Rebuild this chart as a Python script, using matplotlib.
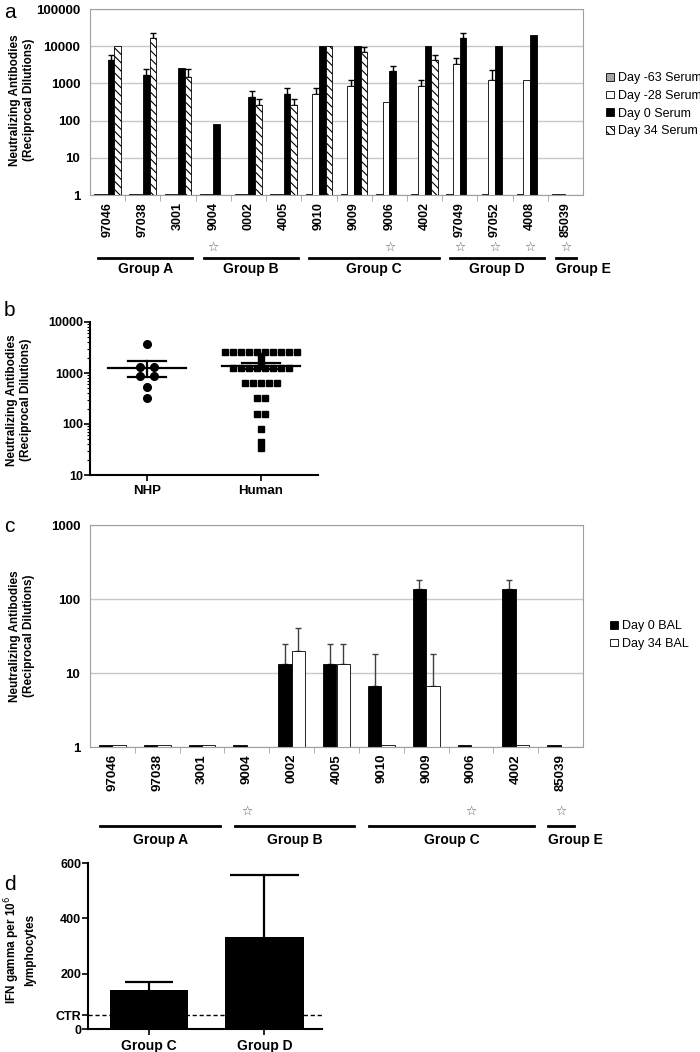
import numpy as np
import matplotlib
matplotlib.use("Agg")
import matplotlib.pyplot as plt
from matplotlib.patches import Patch

plt.rcParams['font.family'] = ['Liberation Sans', 'DejaVu Sans']
plt.rcParams['hatch.linewidth'] = 0.8

nan = np.nan

# ---- panel a data (serum) ----
cats_a = ['97046', '97038', '3001', '9004', '0002', '4005', '9010', '9009',
          '9006', '4002', '97049', '97052', '4008', '85039']
d63 = [1.05] * 14
d28 = [1.05, 1.05, 1.05, 1.05, 1.05, 1.05, 530, 830, 320, 830, 3400, 1250, 1250, 1.05]
d0 = [4300, 1700, 2600, 80, 430, 530, 10000, 10000, 2150, 10000, 17000, 10000, 20000, nan]
d34 = [10000, 17000, 1500, nan, 270, 270, 10000, 6900, nan, 4300, nan, nan, nan, nan]
d28_err = [nan, nan, nan, nan, nan, nan, 740, 1200, nan, 1200, 4900, 2300, nan, nan]
d0_err = [5800, 2400, nan, nan, 620, 740, nan, nan, 2900, nan, 23000, nan, nan, nan]
d34_err = [nan, 23000, 2500, nan, 375, 375, nan, 9700, nan, 5800, nan, nan, nan, nan]
groups_a = [('Group A', 0, 2), ('Group B', 3, 5), ('Group C', 6, 9),
            ('Group D', 10, 12), ('Group E', 13, 13)]
stars_a = ['9004', '9006', '97049', '97052', '4008', '85039']

# ---- panel b data ----
nhp = [3650, 1320, 1320, 870, 870, 540, 330]
human = [2560] * 10 + [2200, 1650] + [1280] * 8 + [640] * 5 + [320] * 2 + [160] * 2 + [80, 45, 34]

# ---- panel c data (BAL) ----
cats_c = ['97046', '97038', '3001', '9004', '0002', '4005', '9010', '9009',
          '9006', '4002', '85039']
bal0 = [1.08, 1.08, 1.08, 1.08, 13.4, 13.4, 6.7, 135, 1.08, 135, 1.08]
bal34 = [1.08, 1.08, 1.08, nan, 20, 13.4, 1.08, 6.7, nan, 1.08, nan]
bal0_err = [nan, nan, nan, nan, 25, 25, 18, 180, nan, 180, nan]
bal34_err = [nan, nan, nan, nan, 40, 25, nan, 18, nan, nan, nan]
groups_c = [('Group A', 0, 2), ('Group B', 3, 5), ('Group C', 6, 9), ('Group E', 10, 10)]
stars_c = ['9004', '9006', '85039']

# ---- panel d data ----
groups_d = ['Group C', 'Group D']
ifn = [141, 333]
ifn_err = [169, 555]
ctr = 50

W, H = 700, 1052
fig = plt.figure(figsize=(7, 10.52), dpi=100)


def px_axes(l, t, r, b):
    return fig.add_axes([l / W, 1 - b / H, (r - l) / W, (b - t) / H])


def up_err(ax, x, vals, tops, color, cap=2.2):
    x = np.asarray(x, float)
    v = np.asarray(vals, float)
    t = np.asarray(tops, float)
    m = ~np.isnan(t)
    ax.errorbar(x[m], v[m], yerr=[np.zeros(m.sum()), t[m] - v[m]], fmt='none',
                ecolor=color, elinewidth=1, capsize=cap, capthick=1, zorder=1)


def excel_frame(ax, ncat, ticks):
    for s in ax.spines.values():
        s.set_color('#a0a0a0')
    ax.set_yscale('log')
    ax.set_ylim(ticks[0], ticks[-1])
    ax.set_yticks(ticks)
    ax.set_yticklabels([str(t) for t in ticks], fontsize=9.5, fontweight='bold')
    ax.minorticks_off()
    ax.yaxis.grid(True, color='#c8c8c8', lw=1)
    ax.set_axisbelow(True)
    ax.set_xlim(-0.5, ncat - 0.5)
    ax.tick_params(axis='y', length=0, pad=7)
    ax.set_xticks(np.arange(ncat - 1) + 0.5, minor=True)
    ax.tick_params(axis='x', which='minor', length=4, color='#a0a0a0')
    ax.tick_params(axis='x', which='major', length=0, pad=5)


def add_groups(ax, cats, groups, stars, ax_h, star_dy, line_dy, label_dy):
    tr = ax.get_xaxis_transform()
    for c in stars:
        ax.text(cats.index(c), -star_dy / ax_h, '\u2606', transform=tr, ha='center',
                va='center', fontsize=9, color='#606060', family='DejaVu Sans')
    for name, i0, i1 in groups:
        x0, x1 = i0 - 0.27, i1 + 0.4
        if i0 == i1:
            x1 = i1 + 0.3
        ax.plot([x0, x1], [-line_dy / ax_h] * 2, color='black', lw=2,
                transform=tr, clip_on=False)
        if i0 == i1:
            ax.text(x0, -label_dy / ax_h, name, transform=tr, ha='left', va='center',
                    fontsize=10, fontweight='bold')
        else:
            ax.text((x0 + x1) / 2, -label_dy / ax_h, name, transform=tr, ha='center',
                    va='center', fontsize=10, fontweight='bold')


ylab = 'Neutralizing Antibodies\n(Reciprocal Dilutions)'

# ================= panel a =================
ax = px_axes(90, 9, 583, 195)
x = np.arange(len(cats_a))
w = 0.19
excel_frame(ax, len(cats_a), [1, 10, 100, 1000, 10000, 100000])
ax.bar(x - 1.5 * w, d63, w, color='#a6a6a6', edgecolor='black', lw=0.6, zorder=2)
ax.bar(x - 0.5 * w, d28, w, color='white', edgecolor='black', lw=0.6, zorder=2)
ax.bar(x + 0.5 * w, d0, w, color='black', edgecolor='black', lw=0.6, zorder=2)
ax.bar(x + 1.5 * w, d34, w, color='white', edgecolor='black', lw=0.6,
       hatch='\\\\\\\\', zorder=2)
up_err(ax, x - 0.5 * w, d28, d28_err, 'black')
up_err(ax, x + 0.5 * w, d0, d0_err, 'black')
up_err(ax, x + 1.5 * w, d34, d34_err, 'black')
ax.set_ylim(1, 100000)
ax.set_xticks(x)
ax.set_xticklabels(cats_a, rotation=90, fontsize=9, fontweight='bold')
add_groups(ax, cats_a, groups_a, stars_a, 186, 52, 63, 74)
fig.text(22 / W, 1 - 100 / H, ylab, rotation=90, ha='center', va='center',
         fontsize=8.5, fontweight='bold', multialignment='center')
fig.text(4 / W, 1 - 12 / H, 'a', fontsize=15, va='center')
leg_a = [Patch(facecolor='#a6a6a6', edgecolor='black', lw=0.6),
         Patch(facecolor='white', edgecolor='black', lw=0.6),
         Patch(facecolor='black', edgecolor='black', lw=0.6),
         Patch(facecolor='white', edgecolor='black', lw=0.6, hatch='\\\\\\\\')]
fig.legend(leg_a, ['Day -63 Serum', 'Day -28 Serum', 'Day 0 Serum', 'Day 34 Serum'],
           loc='upper left', bbox_to_anchor=(600 / W, 1 - 66 / H), frameon=False,
           fontsize=9, handlelength=0.6, handleheight=0.6, handletextpad=0.3,
           labelspacing=0.45, borderpad=0)

# ================= panel b =================
ax = px_axes(90, 322, 318, 475)
for i, (vals, mk, ms, sp) in enumerate([(nhp, 'o', 5.5, 0.12), (human, 's', 3.8, 0.07)]):
    vals = np.asarray(vals, float)
    xs = np.zeros(len(vals))
    for v in np.unique(vals):
        idx = np.where(vals == v)[0]
        xs[idx] = i + (np.arange(len(idx)) - (len(idx) - 1) / 2) * sp
    ax.plot(xs, vals, mk, color='black', ms=ms, ls='none', zorder=3)
    m = vals.mean()
    sem = vals.std(ddof=1) / np.sqrt(len(vals))
    ax.plot([i - 0.34, i + 0.34], [m, m], color='black', lw=1.6, zorder=4)
    ax.plot([i, i], [m - sem, m + sem], color='black', lw=1.6, zorder=4)
    ax.plot([i - 0.17, i + 0.17], [m + sem] * 2, color='black', lw=1.6, zorder=4)
    ax.plot([i - 0.17, i + 0.17], [m - sem] * 2, color='black', lw=1.6, zorder=4)
ax.set_yscale('log')
ax.set_ylim(10, 10000)
ax.set_xlim(-0.5, 1.5)
ax.set_xticks([0, 1])
ax.set_xticklabels(['NHP', 'Human'], fontsize=9.5, fontweight='bold')
ax.set_yticks([10, 100, 1000, 10000])
ax.set_yticklabels(['10', '100', '1000', '10000'], fontsize=9, fontweight='bold')
for s in ['top', 'right']:
    ax.spines[s].set_visible(False)
for s in ['left', 'bottom']:
    ax.spines[s].set_linewidth(1.5)
ax.tick_params(which='major', length=4, width=1.2, pad=1)
ax.tick_params(which='minor', length=2, width=0.8)
ax.tick_params(axis='x', pad=3)
fig.text(19 / W, 1 - 400 / H, ylab, rotation=90, ha='center', va='center',
         fontsize=8.5, fontweight='bold', multialignment='center')
fig.text(4 / W, 1 - 310 / H, 'b', fontsize=15, va='center')

# ================= panel c =================
ax = px_axes(90, 525, 583, 747)
x = np.arange(len(cats_c))
w = 0.3
excel_frame(ax, len(cats_c), [1, 10, 100, 1000])
ax.bar(x - 0.5 * w, bal0, w, color='black', edgecolor='black', lw=0.6, zorder=2)
ax.bar(x + 0.5 * w, bal34, w, color='white', edgecolor='black', lw=0.6, zorder=2)
up_err(ax, x - 0.5 * w, bal0, bal0_err, '#404040', cap=2.5)
up_err(ax, x + 0.5 * w, bal34, bal34_err, '#404040', cap=2.5)
ax.set_ylim(1, 1000)
ax.set_xticks(x)
ax.set_xticklabels(cats_c, rotation=90, fontsize=9.5, fontweight='bold')
add_groups(ax, cats_c, groups_c, stars_c, 222, 64, 79, 93)
fig.text(22 / W, 1 - 636 / H, ylab, rotation=90, ha='center', va='center',
         fontsize=8.5, fontweight='bold', multialignment='center')
fig.text(4 / W, 1 - 527 / H, 'c', fontsize=15, va='center')
leg_c = [Patch(facecolor='black', edgecolor='black', lw=0.6),
         Patch(facecolor='white', edgecolor='black', lw=0.6)]
fig.legend(leg_c, ['Day 0 BAL', 'Day 34 BAL'], loc='upper left',
           bbox_to_anchor=(604 / W, 1 - 614 / H), frameon=False, fontsize=9,
           handlelength=0.6, handleheight=0.6, handletextpad=0.3,
           labelspacing=0.45, borderpad=0)

# ================= panel d =================
ax = px_axes(88, 863, 322, 1029)
xd = np.arange(len(groups_d))
ax.bar(xd, ifn, 0.68, color='black', zorder=2)
ax.vlines(xd, ifn, ifn_err, color='black', lw=1.6, zorder=1)
ax.hlines(ifn_err, xd - np.array([0.21, 0.3]), xd + np.array([0.21, 0.3]),
          color='black', lw=1.6, zorder=1)
ax.axhline(ctr, color='black', ls=(0, (3, 2)), lw=1, zorder=3)
ax.set_xlim(-0.53, 1.5)
ax.set_ylim(0, 600)
ax.set_yticks([0, ctr, 200, 400, 600])
ax.set_yticklabels(['0', 'CTR', '200', '400', '600'], fontsize=9, fontweight='bold')
ax.set_xticks(xd)
ax.set_xticklabels(groups_d, fontsize=10, fontweight='bold')
for s in ['top', 'right']:
    ax.spines[s].set_visible(False)
for s in ['left', 'bottom']:
    ax.spines[s].set_linewidth(1.5)
ax.tick_params(length=4, width=1.2, pad=1)
ax.tick_params(axis='x', pad=3)
fig.text(19 / W, 1 - 950 / H, 'IFN gamma per 10$^{6}$\nlymphocytes', rotation=90,
         ha='center', va='center', fontsize=8.5, fontweight='bold', multialignment='center')
fig.text(4 / W, 1 - 884 / H, 'd', fontsize=15, va='center')

fig.savefig('out.png', dpi=100)
